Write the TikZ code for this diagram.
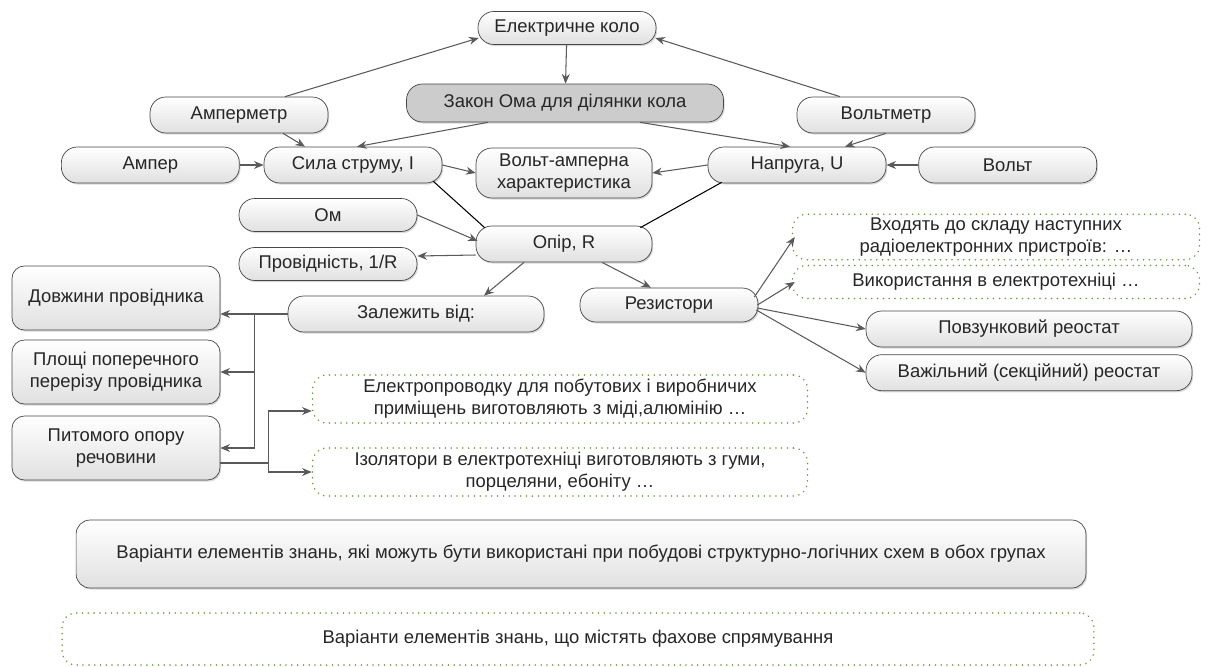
\documentclass[tikz,border=0pt]{standalone}
\usepackage{fontspec}
\setmainfont{Liberation Sans}
\usetikzlibrary{positioning,arrows.meta,calc,shadows}

\definecolor{edge}{RGB}{70,70,70}
\definecolor{wire}{RGB}{90,90,90}
\definecolor{leaf}{RGB}{112,150,66}

\begin{document}
\begin{tikzpicture}[
    x=0.02cm, y=-0.02cm,
    font=\fontsize{10.5}{12.5}\selectfont,
    box/.style={
        draw=edge,
        text=black!85,
        rounded corners=9pt,
        top color=white,
        bottom color=black!12,
        minimum width=3.56cm,
        minimum height=0.72cm,
        inner sep=2pt,
        align=center,
        drop shadow={shadow xshift=0.7pt, shadow yshift=-0.9pt, opacity=0.3}
    },
    grey/.style={box, top color=black!20, bottom color=black!20},
    tall/.style={box, rounded corners=7pt, minimum width=4.16cm, minimum height=1.28cm},
    note/.style={
        draw=leaf,
        text=black!85,
        line width=0.9pt,
        dash pattern=on 0.1pt off 3.2pt,
        line cap=round,
        rounded corners=8pt,
        minimum height=0.76cm,
        inner sep=2pt,
        align=center
    },
    arrow/.style={-{Stealth[length=5.5pt,width=4.5pt]}, draw=wire, line width=0.6pt},
    link/.style={draw=black, line width=0.6pt}
]
\useasboundingbox (0,0) rectangle (1212,666);

% ============================================================
% ВЕРХНІЙ РЯД
% ============================================================
\node[box, minimum height=0.66cm] (circuit) at (567,28) {Електричне коло};
\node[grey, minimum width=6.34cm, minimum height=0.76cm] (law) at (565,103) {Закон Ома для ділянки кола};
\node[box] (ammeter) at (239,115) {Амперметр};
\node[box] (voltmeter) at (886,115) {Вольтметр};

\node[box] (current) at (353,165) {Сила струму, I};
\node[box, left=0.48cm of current] (ampere) {Ампер};
\node[box, minimum width=3.52cm, minimum height=1.0cm] (vac) at (564,173) {Вольт-амперна\\характеристика};
\node[box] (voltage) at (797,165) {Напруга, U};
\node[box, right=0.64cm of voltage] (volt) {Вольт};

\draw[arrow] ($(ammeter.north)+(46,0)$) -- ($(circuit.west)+(1,10)$);
\draw[arrow] ($(voltmeter.north)+(-46,0)$) -- ($(circuit.east)+(-1,10)$);
\draw[arrow] (circuit) -- (law);
\draw[arrow] ($(law.south)+(-77,0)$) -- ($(current.north)+(4,0)$);
\draw[arrow] ($(law.south)+(75,0)$) -- ($(voltage.north)+(-7,0)$);
\draw[arrow] ($(ammeter.south)+(44,0)$) -- ($(current.north)+(-48,0)$);
\draw[arrow] (voltmeter.south) -- ($(voltage.north)+(48,0)$);
\draw[arrow] (ampere) -- (current);
\draw[arrow] (volt) -- (voltage);
\draw[arrow] (current.east) -- (vac.west);
\draw[arrow] (voltage.west) -- (vac.east);

% ============================================================
% ОПІР
% ============================================================
\node[box, minimum width=3.52cm] (resist) at (564,244) {Опір, R};
\node[box, minimum height=0.66cm] (ohm) at (328,215) {Ом};
\node[box, minimum height=0.66cm] (conduct) at (328,264) {Провідність, 1/R};
\node[box, minimum width=5.12cm] (depends) at (416,314) {Залежить від:};
\node[box, minimum height=0.68cm] (resistors) at (669,305) {Резистори};

\draw[link] ($(current.south east)+(-9,-2)$) -- ($(resist.north west)+(9,2)$);
\draw[link] ($(voltage.south west)+(14,-1)$) -- ($(resist.north east)+(-12,2)$);
\draw[arrow] (ohm.east) -- ($(resist.west)+(2,-3)$);
\draw[arrow] ($(resist.west)+(0,11)$) -- ($(conduct.east)+(0,-8)$);
\draw[arrow] ($(resist.south)+(-40,0)$) -- ($(depends.north)+(68,0)$);
\draw[arrow] ($(resist.south)+(38,0)$) -- ($(resistors.north)+(-18,0)$);

% ============================================================
% РЕЗИСТОРИ
% ============================================================
\node[note, minimum width=8.14cm] (parts) at (996,237) {Входять до складу наступних\\радіоелектронних пристроїв: …};
\node[note, minimum width=8.14cm, minimum height=0.66cm] (usage) at (996,282) {Використання в електротехніці …};
\node[box, minimum width=6.52cm] (slider) at (1029,329) {Повзунковий реостат};
\node[box, minimum width=6.52cm, below=0.14cm of slider] (lever) {Важільний (секційний) реостат};

\draw[arrow] ($(resistors.east)+(-4,-8)$) -- ($(parts.west)+(3,0)$);
\draw[arrow] ($(resistors.east)+(-1,0)$) -- ($(usage.west)+(3,0)$);
\draw[arrow] ($(resistors.east)+(-1,3)$) -- (slider.west);
\draw[arrow] ($(resistors.east)+(-2,5)$) -- (lever.west);

% ============================================================
% ЗАЛЕЖНІСТЬ
% ============================================================
\node[tall] (length) at (116,298) {Довжини провідника};
\node[tall] (area) at (116,372) {Площі поперечного\\перерізу провідника};
\node[tall] (spec) at (116,448) {Питомого опору\\речовини};
\node[note, minimum width=9.9cm, minimum height=0.96cm] (wiring) at (560,399) {Електропроводку для побутових і виробничих\\приміщень виготовляють з міді,алюмінію …};
\node[note, minimum width=9.9cm, minimum height=0.96cm] (insul) at (560,472) {Ізолятори в електротехніці виготовляють з гуми,\\порцеляни, ебоніту …};

\coordinate (busA) at ($(depends.west)+(-33,0)$);
\draw[arrow] (depends.west) -- (busA) -- (length.east |- busA);
\draw[arrow] (busA) |- (area.east);
\draw[arrow] (busA) |- (spec.east);

\coordinate (busB) at ($(spec.east)+(48,15)$);
\draw[wire, line width=0.6pt] ($(spec.east)+(0,15)$) -- (busB);
\draw[arrow] (busB) |- ($(wiring.west)+(0,12)$);
\draw[arrow] (busB) |- (insul.west);

% ============================================================
% ЛЕГЕНДА
% ============================================================
\node[box, rounded corners=8pt, minimum width=20.2cm, minimum height=1.36cm] (common) at (581,554)
    {Варіанти елементів знань, які можуть бути використані при побудові структурно-логічних схем в обох групах};
\node[note, minimum width=20.64cm, minimum height=1.04cm] (profile) at (578,639)
    {Варіанти елементів знань, що містять фахове спрямування};

\end{tikzpicture}
\end{document}
